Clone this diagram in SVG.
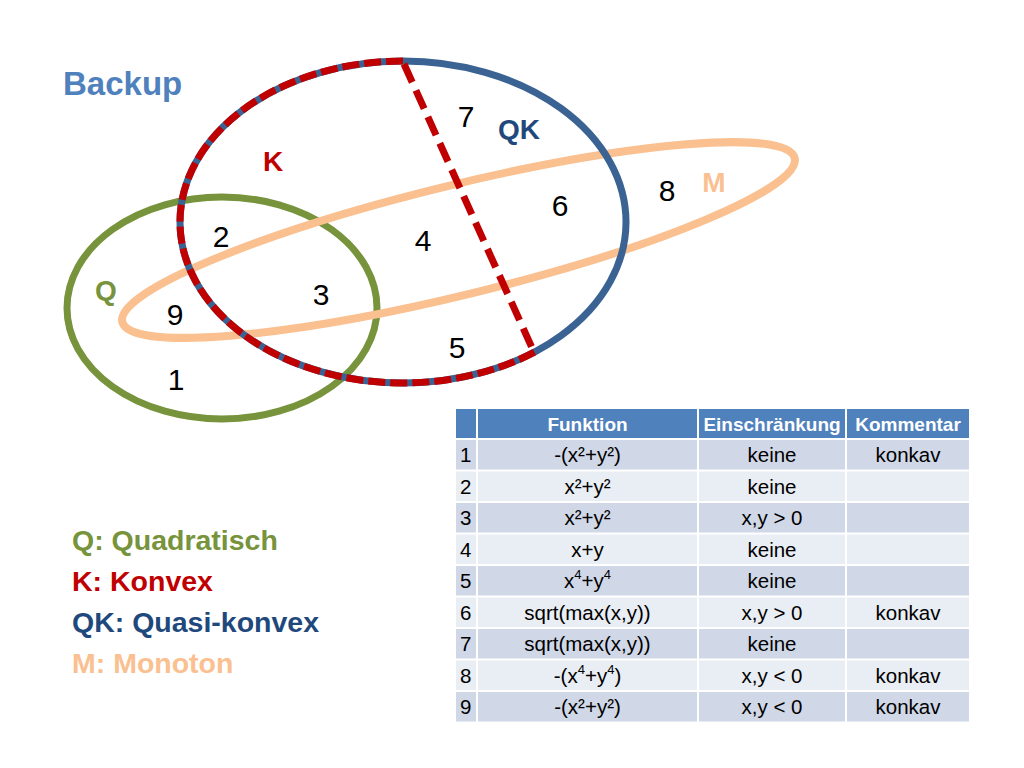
<svg xmlns="http://www.w3.org/2000/svg" width="1024" height="768" viewBox="0 0 1024 768">
<style>
text{font-family:"Liberation Sans","Noto Sans",Arial,sans-serif}
.lbl{font-weight:bold;font-size:28px;text-anchor:middle}
.num{font-size:30px;fill:#000;text-anchor:middle}
.leg{font-weight:bold;font-size:28.5px}
.hd{font-weight:bold;font-size:19px;fill:#fff;text-anchor:middle}
.td{font-size:20.5px;fill:#000;text-anchor:middle}
.tn{font-size:20.5px;fill:#000}
.sup{font-size:13px}
.odd{fill:#D0D8E8}
.even{fill:#E9EDF4}
</style>
<rect width="1024" height="768" fill="#fff"/>
<text x="63" y="95" font-size="33" font-weight="bold" fill="#4F81BD">Backup</text>

<g id="Q">
<ellipse cx="222" cy="308" rx="155" ry="111" fill="none" stroke="#77933C" stroke-width="7"/>
</g>
<g id="M">
<ellipse cx="458.5" cy="240" rx="346" ry="55" transform="rotate(-13.7 458.5 240)" fill="none" stroke="#FAC090" stroke-width="8"/>
</g>
<g id="QK">
<ellipse cx="403" cy="222" rx="223" ry="161" fill="none" stroke="#3A6394" stroke-width="7"/>
</g>
<g id="K">
<path d="M403 61 A223 161 0 1 0 535.3 351.6" fill="none" stroke="#C00000" stroke-width="7" stroke-dasharray="17 5"/>
<line x1="404" y1="64" x2="533" y2="350" stroke="#C00000" stroke-width="7" stroke-dasharray="20 9"/>
</g>

<g id="labels">
<text class="lbl" x="273" y="171" fill="#C00000">K</text>
<text class="lbl" x="519" y="139" fill="#1F497D">QK</text>
<text class="lbl" x="714" y="192" fill="#FAC090">M</text>
<text class="lbl" x="106" y="300" fill="#77933C">Q</text>
<text class="num" x="466" y="127">7</text>
<text class="num" x="560" y="216">6</text>
<text class="num" x="667" y="201">8</text>
<text class="num" x="423" y="251">4</text>
<text class="num" x="221" y="247">2</text>
<text class="num" x="321" y="305">3</text>
<text class="num" x="175" y="325">9</text>
<text class="num" x="457" y="358">5</text>
<text class="num" x="176" y="390">1</text>
</g>

<g id="legend">
<text class="leg" x="72" y="550" fill="#77933C">Q: Quadratisch</text>
<text class="leg" x="72" y="591" fill="#C00000">K: Konvex</text>
<text class="leg" x="72" y="632" fill="#1F497D">QK: Quasi-konvex</text>
<text class="leg" x="72" y="673" fill="#FAC090">M: Monoton</text>
</g>

<g id="table">
<rect x="456" y="409" width="513" height="29" fill="#4F81BD"/>
<rect class="odd" x="456" y="440" width="513" height="29.5"/>
<rect class="even" x="456" y="471.5" width="513" height="29.5"/>
<rect class="odd" x="456" y="503" width="513" height="29.5"/>
<rect class="even" x="456" y="534.5" width="513" height="29.5"/>
<rect class="odd" x="456" y="566" width="513" height="29.5"/>
<rect class="even" x="456" y="597.5" width="513" height="29.5"/>
<rect class="odd" x="456" y="629" width="513" height="29.5"/>
<rect class="even" x="456" y="660.5" width="513" height="29.5"/>
<rect class="odd" x="456" y="692" width="513" height="29.5"/>
<rect x="476" y="405" width="2" height="320" fill="#fff"/>
<rect x="697" y="405" width="2" height="320" fill="#fff"/>
<rect x="845" y="405" width="2" height="320" fill="#fff"/>

<text class="hd" x="587.5" y="431">Funktion</text>
<text class="hd" x="772" y="431">Einschränkung</text>
<text class="hd" x="908" y="431">Kommentar</text>

<text class="tn" x="460" y="462">1</text>
<text class="tn" x="460" y="493.5">2</text>
<text class="tn" x="460" y="525">3</text>
<text class="tn" x="460" y="556.5">4</text>
<text class="tn" x="460" y="588">5</text>
<text class="tn" x="460" y="619.5">6</text>
<text class="tn" x="460" y="651">7</text>
<text class="tn" x="460" y="682.5">8</text>
<text class="tn" x="460" y="714">9</text>

<text class="td" x="587.5" y="462">-(x²+y²)</text>
<text class="td" x="587.5" y="493.5">x²+y²</text>
<text class="td" x="587.5" y="525">x²+y²</text>
<text class="td" x="587.5" y="556.5">x+y</text>
<text class="td" x="587.5" y="588">x<tspan class="sup" dy="-9">4</tspan><tspan dy="9">+y</tspan><tspan class="sup" dy="-9">4</tspan></text>
<text class="td" x="587.5" y="619.5">sqrt(max(x,y))</text>
<text class="td" x="587.5" y="651">sqrt(max(x,y))</text>
<text class="td" x="587.5" y="682.5">-(x<tspan class="sup" dy="-9">4</tspan><tspan dy="9">+y</tspan><tspan class="sup" dy="-9">4</tspan><tspan dy="9">)</tspan></text>
<text class="td" x="587.5" y="714">-(x²+y²)</text>

<text class="td" x="772" y="462">keine</text>
<text class="td" x="772" y="493.5">keine</text>
<text class="td" x="772" y="525">x,y &gt; 0</text>
<text class="td" x="772" y="556.5">keine</text>
<text class="td" x="772" y="588">keine</text>
<text class="td" x="772" y="619.5">x,y &gt; 0</text>
<text class="td" x="772" y="651">keine</text>
<text class="td" x="772" y="682.5">x,y &lt; 0</text>
<text class="td" x="772" y="714">x,y &lt; 0</text>

<text class="td" x="908" y="462">konkav</text>
<text class="td" x="908" y="619.5">konkav</text>
<text class="td" x="908" y="682.5">konkav</text>
<text class="td" x="908" y="714">konkav</text>
</g>
</svg>
